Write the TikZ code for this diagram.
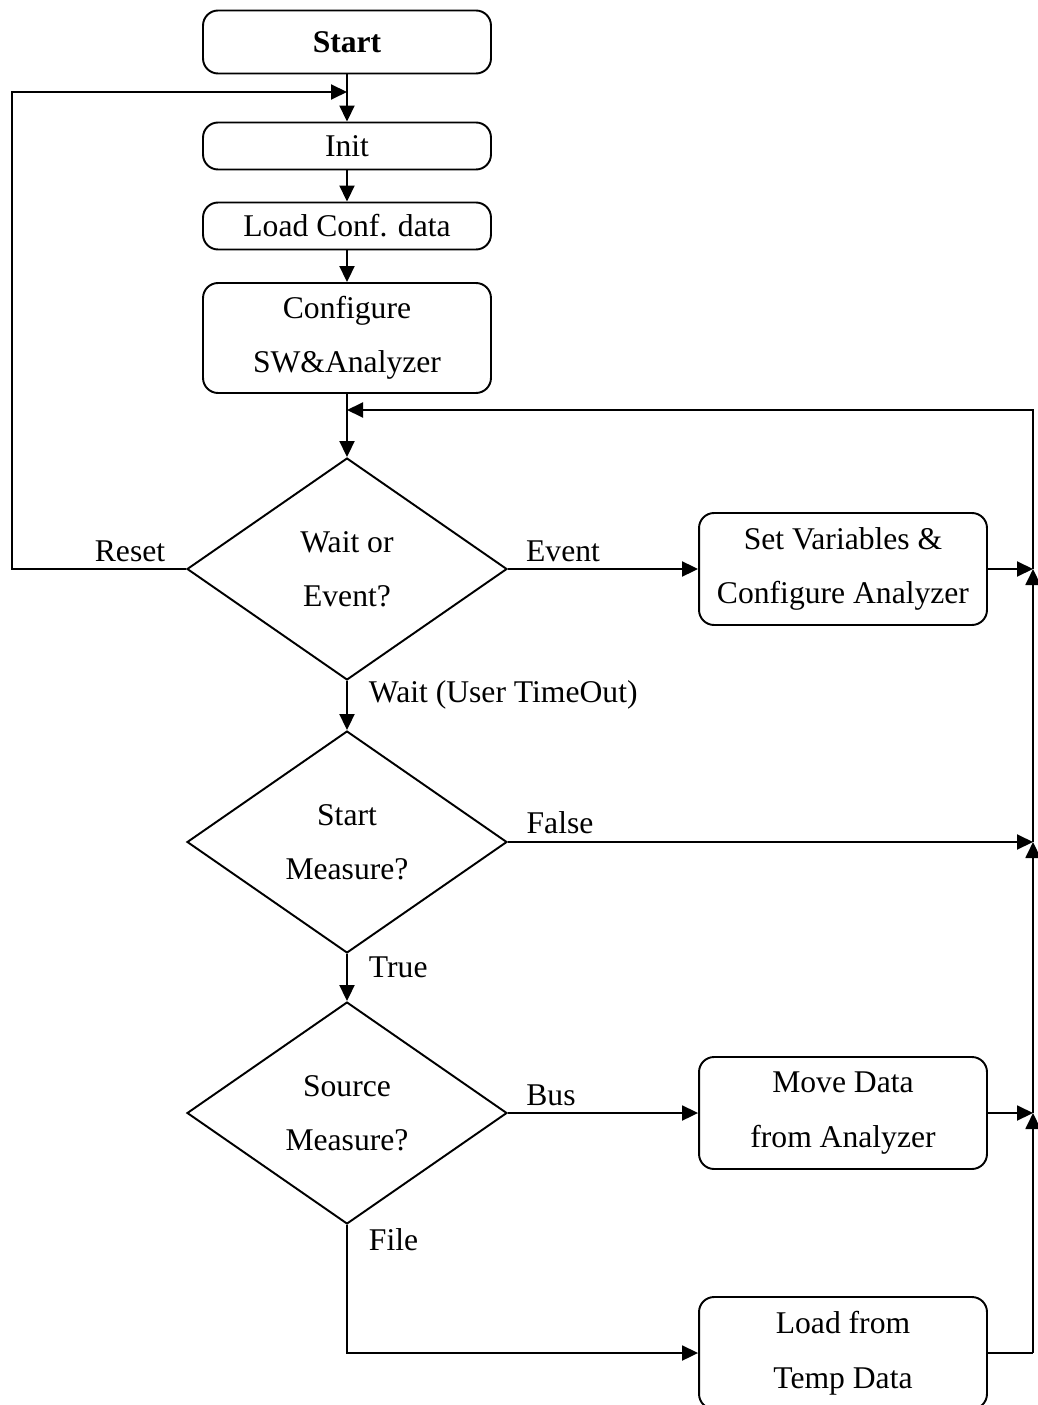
\documentclass[tikz,border=0pt]{standalone}
\usepackage{fontspec}
\setmainfont{Liberation Serif}
\usetikzlibrary{arrows.meta}
\usetikzlibrary{shapes.geometric}
\usetikzlibrary{positioning}

\tikzset{
  proc/.style={draw, rounded corners=0.3cm, minimum width=5.76cm, align=center,
    inner sep=0pt, font=\fontsize{18}{31}\selectfont},
  decide/.style={draw, diamond, aspect=1.44, minimum width=6.4cm, minimum height=4.44cm,
    inner sep=0pt, align=center, font=\fontsize{18}{31}\selectfont},
  lbl/.style={font=\fontsize{18}{22}\selectfont, inner sep=0pt},
  flow/.style={-{Triangle[length=0.32cm,width=0.3cm]}},
}

\begin{document}
\begin{tikzpicture}[x=0.02cm, y=-0.02cm, line width=1.1pt]

      \useasboundingbox (0, 0) rectangle (1037, 1405);

      % main column
      \node [proc, minimum height=1.26cm, font=\fontsize{18}{31}\selectfont\bfseries]
        (start) at (347, 42) {Start};
      \node [proc, minimum height=0.94cm] (init) at (347, 146) {Init};
      \node [proc, minimum height=0.94cm] (conf) at (347, 226) {Load Conf. data};
      \node [proc, minimum height=2.2cm] (cfg) at (347, 338) {Configure\\SW\&Analyzer};

      \node [decide] (wait) at (347, 569) {Wait or\\Event?};
      \node [decide] (meas) at (347, 842) {Start\\Measure?};
      \node [decide] (src) at (347, 1113) {Source\\Measure?};

      % right column
      \node [proc, minimum height=2.24cm] (setv) at (843, 569) {Set Variables \&\\Configure Analyzer};
      \node [proc, minimum height=2.24cm] (move) at (843, 1113) {Move Data\\from Analyzer};
      \node [proc, minimum height=2.24cm] (temp) at (843, 1353) {Load from\\Temp Data};

      % junctions
      \coordinate (jinit) at (347, 92);
      \coordinate (jloop) at (347, 410);
      \coordinate (reset) at (12, 569);
      \coordinate (file) at (347, 1353);
      \coordinate (rtop) at (1033, 410);
      \coordinate (r1) at (1033, 569);
      \coordinate (r2) at (1033, 842);
      \coordinate (r3) at (1033, 1113);
      \coordinate (r4) at (1033, 1353);

      \draw [flow] (start) -- (init);
      \draw [flow] (init) -- (conf);
      \draw [flow] (conf) -- (cfg);
      \draw [flow] (cfg) -- (wait);
      \draw [flow] (wait) -- (meas);
      \draw [flow] (meas) -- (src);

      \draw [flow] (wait.west) -- (reset) |- (jinit);
      \draw [flow] (wait.east) -- (setv);
      \draw [flow] (src.east) -- (move);
      \draw [flow] (src.south) -- (file) -- (temp);

      \draw [flow] (setv) -- (r1);
      \draw [flow] (meas.east) -- (r2);
      \draw [flow] (move) -- (r3);
      \draw (temp) -- (r4);
      \draw [flow] (r4) -- (r3);
      \draw [flow] (r3) -- (r2);
      \draw [flow] (r2) -- (r1);
      \draw [flow] (r1) -- (rtop) -- (jloop);

      % labels
      \node [lbl] (lreset) at (130, 551) {Reset};
      \node [lbl] (levent) at (563, 551) {Event};
      \node [lbl, anchor=west] (lwait) at (368, 695) {Wait (User TimeOut)};
      \node [lbl] (lfalse) at (560, 823) {False};
      \node [lbl, anchor=west] (ltrue) at (368, 967) {True};
      \node [lbl] (lbus) at (551, 1095) {Bus};
      \node [lbl, anchor=west] (lfile) at (368, 1240) {File};

    \end{tikzpicture}
\end{document}
